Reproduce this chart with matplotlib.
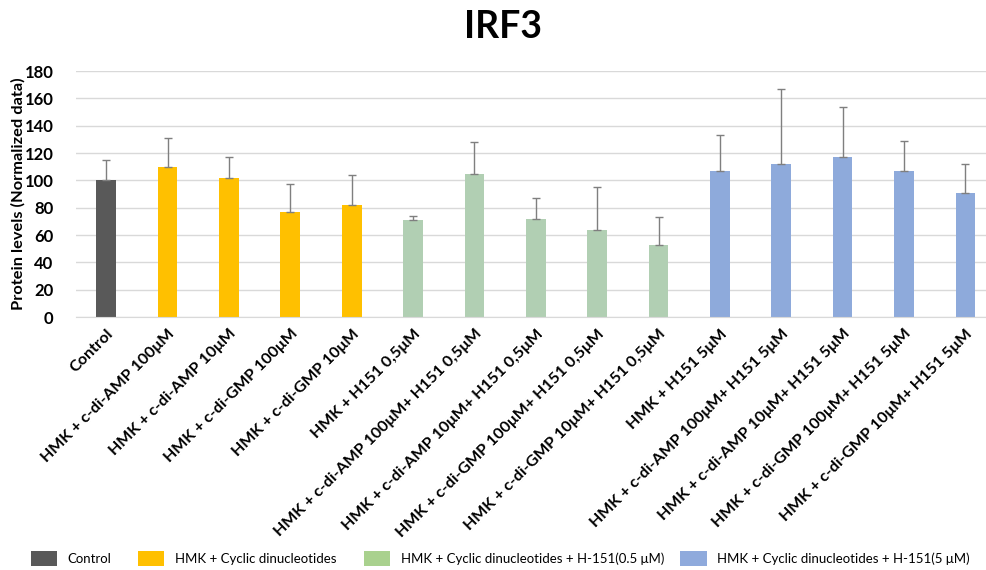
import matplotlib
matplotlib.use("Agg")
import matplotlib.pyplot as plt
from matplotlib.patches import Patch

categories = [
    "Control",
    "HMK + c-di-AMP 100μM",
    "HMK + c-di-AMP 10μM",
    "HMK + c-di-GMP 100μM",
    "HMK + c-di-GMP 10μM",
    "HMK + H151 0,5μM",
    "HMK + c-di-AMP 100μM+ H151 0,5μM",
    "HMK + c-di-AMP 10μM+ H151 0,5μM",
    "HMK + c-di-GMP 100μM+ H151 0,5μM",
    "HMK + c-di-GMP 10μM+ H151 0,5μM",
    "HMK + H151 5μM",
    "HMK + c-di-AMP 100μM+ H151 5μM",
    "HMK + c-di-AMP 10μM+ H151 5μM",
    "HMK + c-di-GMP 100μM+ H151 5μM",
    "HMK + c-di-GMP 10μM+ H151 5μM",
]
values = [100, 110, 102, 77, 82, 71, 105, 72, 64, 53, 107, 112, 117, 107, 91]
errors = [15, 21, 15, 20, 22, 3, 23, 15, 31, 20, 26, 55, 37, 22, 21]
groups = [0, 1, 1, 1, 1, 2, 2, 2, 2, 2, 3, 3, 3, 3, 3]

group_names = [
    "Control",
    "HMK + Cyclic dinucleotides",
    "HMK + Cyclic dinucleotides + H-151(0.5 μM)",
    "HMK + Cyclic dinucleotides + H-151(5 μM)",
]
bar_colors = ["#595959", "#ffc000", "#b1cfb3", "#8eaadb"]
legend_colors = ["#595959", "#ffc000", "#a9d18e", "#8faadc"]
legend_x = [0.027, 0.136, 0.365, 0.686]

plt.rcParams["font.family"] = ["Lato", "DejaVu Sans"]

fig = plt.figure(figsize=(9.86, 5.70), dpi=100)
ax = fig.add_axes([0.0766, 0.4438, 0.9336, 0.4316])

x = list(range(len(categories)))
ax.bar(x, values, width=0.32, color=[bar_colors[g] for g in groups], zorder=2)
ax.errorbar(x, values, yerr=[[0] * len(errors), errors], fmt="none",
            ecolor="#7f7f7f", elinewidth=1.0, capsize=3, capthick=1.0, zorder=3)

ax.set_xlim(-0.5, len(categories) - 0.5)
ax.set_ylim(0, 180)
ax.set_yticks(range(0, 181, 20))
ax.yaxis.grid(True, color="#d9d9d9", linewidth=1.0, zorder=0)
ax.set_axisbelow(True)
for s in ["top", "right", "left"]:
    ax.spines[s].set_visible(False)
ax.spines["bottom"].set_color("#d9d9d9")
ax.tick_params(axis="both", length=0)
ax.tick_params(axis="y", pad=16)

for lbl in ax.get_yticklabels():
    lbl.set_fontsize(12)
    lbl.set_fontweight("bold")

ax.set_xticks(x)
ax.set_xticklabels(categories, rotation=45, ha="right", va="top",
                   rotation_mode="anchor", fontsize=11.6, fontweight="bold")
ax.tick_params(axis="x", pad=7)

ax.set_ylabel("Protein levels (Normalized data)", fontsize=11.8, fontweight="bold")
ax.yaxis.set_label_coords(-0.054, 0.5)

fig.text(0.51, 0.952, "IRF3", ha="center", va="center", fontsize=27, fontweight="bold")

# one legend per group so each entry sits at its own horizontal position
for name, color, lx in zip(group_names, legend_colors, legend_x):
    fig.legend([Patch(facecolor=color, edgecolor="none")], [name],
               loc="lower left", bbox_to_anchor=(lx, 0.0), borderaxespad=0.0,
               frameon=False, fontsize=9.5, handlelength=2.0, handleheight=1.4,
               handletextpad=0.8, borderpad=0.3)

fig.savefig("out.png", dpi=100)
